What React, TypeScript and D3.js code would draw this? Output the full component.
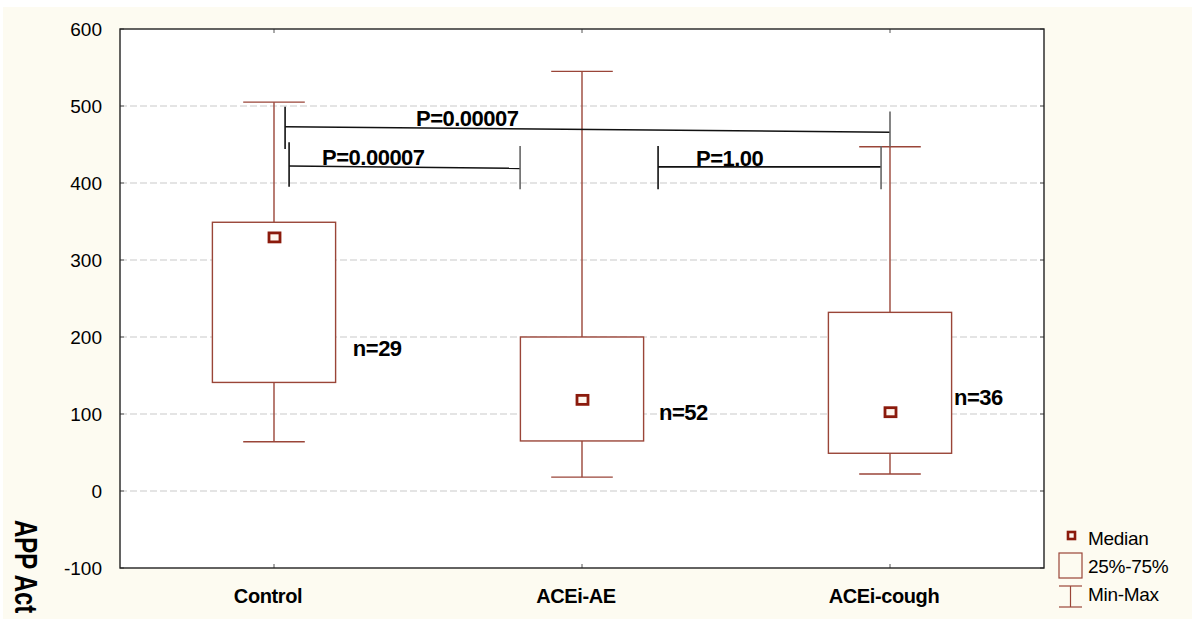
import * as d3 from 'd3'

const categories = ['Control', 'ACEi-AE', 'ACEi-cough']
const minVals = [64, 18, 22]
const q1Vals = [141, 65, 49]
const medianVals = [330, 119, 103]
const q3Vals = [349, 200, 232]
const maxVals = [505, 545, 447]

const nLabels = ['n=29', 'n=52', 'n=36']
const nLabelPos = [0.756, 1.75, 2.708]
const nLabelVal = [175, 92, 112]

const yTicks = [-100, 0, 100, 200, 300, 400, 500, 600]
const gridTicks = [0, 100, 200, 300, 400, 500]

// significance brackets, x in category units, y in data units
const pLabels = ['P=0.00007', 'P=0.00007', 'P=1.00']
const pX1 = [0.536, 0.549, 1.747]
const pX2 = [2.5, 1.299, 2.471]
const pY1 = [473, 422, 421]
const pY2 = [466, 419, 421]
const pLeftTop = [499, 453, 448]
const pLeftBot = [444, 395, 392]
const pRightTop = [493, 448, 448]
const pRightBot = [447, 392, 392]
const pTextPos = [0.961, 0.656, 1.87]

const legendItems = ['Median', '25%-75%', 'Min-Max']

const W = 1192
const H = 619
const margin = { top: 29, right: 148, bottom: 51, left: 120 }
const plotW = W - margin.left - margin.right
const plotH = H - margin.top - margin.bottom

const boxColor = '#9a4538'
const medColor = '#8b1a0c'
const cream = '#fdfbf1'
const font = '"Liberation Sans", Arial, sans-serif'

export default function App() {
  const x = d3.scaleBand<string>().domain(categories).range([0, plotW])
  const xu = d3.scaleLinear().domain([0, 3]).range([0, plotW])
  const y = d3.scaleLinear().domain([-100, 600]).range([plotH, 0])
  const bw = x.bandwidth()
  const boxW = bw * 0.4
  const capW = bw * 0.2
  const cx = (c: string) => (x(c) ?? 0) + bw / 2

  return (
    <div style={{ position: 'absolute', left: 0, top: 0 }}>
      <svg width={W} height={H} style={{ display: 'block', fontFamily: font }}>
        <rect x={0} y={0} width={W} height={H} fill="#ffffff" />
        <rect x={3} y={7} width={W - 3} height={H - 7} fill={cream} />
        <g transform={`translate(${margin.left},${margin.top})`}>
          <rect x={0} y={0} width={plotW} height={plotH} fill="#ffffff" />
          {gridTicks.map((t) => (
            <line key={t} x1={0} x2={plotW} y1={y(t)} y2={y(t)}
              stroke="#c9c9c9" strokeDasharray="7,3" strokeWidth={1} />
          ))}
          {/* ticks */}
          {yTicks.map((t) => (
            <g key={t}>
              <line x1={0} x2={4} y1={y(t)} y2={y(t)} stroke="#555" />
              <line x1={plotW - 4} x2={plotW} y1={y(t)} y2={y(t)} stroke="#555" />
              <text x={-18} y={y(t)} dy="0.36em" textAnchor="end" fontSize={19} fill="#000">{t}</text>
            </g>
          ))}
          {categories.map((c) => (
            <g key={c}>
              <line x1={cx(c)} x2={cx(c)} y1={0} y2={4} stroke="#555" />
              <line x1={cx(c)} x2={cx(c)} y1={plotH - 4} y2={plotH} stroke="#555" />
              <text x={cx(c) - 6} y={plotH + 35} textAnchor="middle" fontSize={20} fontWeight="bold" fill="#000" letterSpacing={-0.4}>{c}</text>
            </g>
          ))}

          {/* boxes */}
          {categories.map((c, i) => (
            <g key={c} stroke={boxColor} strokeWidth={1.4} fill="none">
              <line x1={cx(c)} x2={cx(c)} y1={y(maxVals[i])} y2={y(q3Vals[i])} />
              <line x1={cx(c)} x2={cx(c)} y1={y(q1Vals[i])} y2={y(minVals[i])} />
              <line x1={cx(c) - capW / 2} x2={cx(c) + capW / 2} y1={y(maxVals[i])} y2={y(maxVals[i])} />
              <line x1={cx(c) - capW / 2} x2={cx(c) + capW / 2} y1={y(minVals[i])} y2={y(minVals[i])} />
              <rect x={cx(c) - boxW / 2} y={y(q3Vals[i])} width={boxW} height={y(q1Vals[i]) - y(q3Vals[i])} fill="#ffffff" />
            </g>
          ))}

          {/* significance brackets */}
          {pLabels.map((p, i) => (
            <g key={i} stroke="#111" strokeWidth={1.6}>
              <line x1={xu(pX1[i])} x2={xu(pX2[i])} y1={y(pY1[i])} y2={y(pY2[i])} />
              <line x1={xu(pX1[i])} x2={xu(pX1[i])} y1={y(pLeftTop[i])} y2={y(pLeftBot[i])} />
              <line x1={xu(pX2[i])} x2={xu(pX2[i])} y1={y(pRightTop[i])} y2={y(pRightBot[i])} stroke="#666" />
              <text x={xu(pTextPos[i])} y={y(pY1[i]) - 1} fontSize={22} fontWeight="bold" fill="#000" stroke="none" letterSpacing={-0.5}>{p}</text>
            </g>
          ))}

          {/* medians */}
          {categories.map((c, i) => (
            <rect key={c} x={cx(c) - 5} y={y(medianVals[i]) - 4} width={11} height={9}
              fill="#fff6ee" stroke={medColor} strokeWidth={2.8} />
          ))}

          {nLabels.map((n, i) => (
            <text key={n} x={xu(nLabelPos[i])} y={y(nLabelVal[i])} fontSize={22} fontWeight="bold" fill="#000" letterSpacing={-0.5}>{n}</text>
          ))}

          {/* frame */}
          <rect x={0} y={0} width={plotW} height={plotH} fill="none" stroke="#222" strokeWidth={1.4} />
        </g>

        <text transform="translate(15,520) rotate(90) scale(1,1.28)" fontSize={24} fontWeight="bold" fill="#000">APP Act</text>

        {/* legend */}
        <g>
          <rect x={1068} y={532} width={7} height={7} fill="#fff6ee" stroke={medColor} strokeWidth={2.6} />
          <rect x={1059} y={553} width={23} height={25} fill="none" stroke={boxColor} strokeWidth={1.2} />
          <g stroke={boxColor} strokeWidth={1.2}>
            <line x1={1059} x2={1082} y1={586} y2={586} />
            <line x1={1070.5} x2={1070.5} y1={586} y2={607} />
            <line x1={1059} x2={1082} y1={607} y2={607} />
          </g>
          {legendItems.map((t, i) => (
            <text key={t} x={1088} y={545 + i * 28} fontSize={19} fill="#000" letterSpacing={-0.3}>{t}</text>
          ))}
        </g>
      </svg>
    </div>
  )
}
